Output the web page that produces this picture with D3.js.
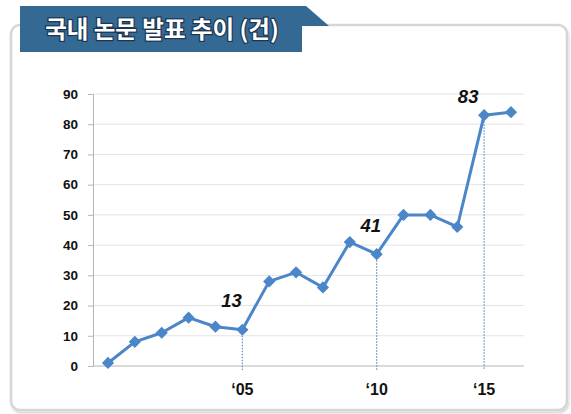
<!DOCTYPE html>
<html>
<head>
<meta charset="utf-8">
<script src="https://cdn.jsdelivr.net/npm/d3@7"></script>
<style>
  html, body { margin: 0; padding: 0; background: #fff; }
  svg { display: block; }
</style>
</head>
<body>
<svg id="chart" width="571" height="414"></svg>
<script>
// Domestic paper publications per year (count)
const periods = d3.range(16);
const counts = [1, 8, 11, 16, 13, 12, 28, 31, 26, 41, 37, 50, 50, 46, 83, 84];
const yTicks = [0, 10, 20, 30, 40, 50, 60, 70, 80, 90];
// year labels on the x axis, keyed by period index
const yearTicks = [{ i: 5, label: "‘05" }, { i: 10, label: "‘10" }, { i: 14, label: "‘15" }];
// value callouts: index of the point whose value is written
const callouts = [4, 9, 14];
const title = "국내 논문 발표 추이 (건)";

const svg = d3.select("#chart");

// shadowed panel
const defs = svg.append("defs");
const f = defs.append("filter").attr("id", "sh").attr("x", "-5%").attr("y", "-5%").attr("width", "110%").attr("height", "110%");
f.append("feGaussianBlur").attr("in", "SourceAlpha").attr("stdDeviation", 1.2);
f.append("feOffset").attr("dx", 1).attr("dy", 1.5).attr("result", "b");
f.append("feFlood").attr("flood-color", "#000").attr("flood-opacity", 0.18);
f.append("feComposite").attr("in2", "b").attr("operator", "in");
const fm = f.append("feMerge");
fm.append("feMergeNode");
fm.append("feMergeNode").attr("in", "SourceGraphic");

svg.append("rect")
  .attr("x", 11).attr("y", 25).attr("width", 556).attr("height", 385)
  .attr("rx", 9).attr("ry", 9)
  .attr("fill", "#fff").attr("stroke", "#d6d6d6").attr("stroke-width", 2.5)
  .attr("filter", "url(#sh)");

// title banner
svg.append("path")
  .attr("d", "M20,6 L306,6 L329,26 L302,26 L302,52 L20,52 Z")
  .attr("fill", "#336993");
svg.append("text")
  .attr("x", 162).attr("y", 38)
  .attr("text-anchor", "middle")
  .attr("font-family", "'Noto Sans CJK KR', sans-serif")
  .attr("font-weight", 700).attr("font-size", 23.5)
  .attr("fill", "#fff")
  .attr("stroke", "#1d3550").attr("stroke-width", 2.4).attr("paint-order", "stroke")
  .text(title);

// scales
const x = d3.scalePoint().domain(periods).range([108, 511]);
const y = d3.scaleLinear().domain([0, 90]).range([366, 94]);
const left = 93, right = 524;

const g = svg.append("g");

// gridlines
g.selectAll("line.grid").data(yTicks.filter(d => d > 0)).join("line")
  .attr("class", "grid")
  .attr("x1", left).attr("x2", right)
  .attr("y1", d => y(d)).attr("y2", d => y(d))
  .attr("stroke", "#e3e3e3").attr("stroke-width", 1);

// y axis
const yAxis = g.append("g").attr("transform", `translate(${left},0)`)
  .call(d3.axisLeft(y).tickValues(yTicks).tickSize(5).tickPadding(10));
yAxis.select(".domain").attr("stroke", "#b5b5b5");
yAxis.selectAll(".tick line").attr("stroke", "#b5b5b5");
yAxis.selectAll(".tick text")
  .attr("font-family", "'Liberation Sans', Arial, sans-serif")
  .attr("font-weight", 700).attr("font-size", 13.5).attr("fill", "#111");

// baseline
g.append("line")
  .attr("x1", left).attr("x2", right)
  .attr("y1", y(0)).attr("y2", y(0))
  .attr("stroke", "#b5b5b5").attr("stroke-width", 1);

// dotted drop lines at labelled years
g.selectAll("line.drop").data(yearTicks).join("line")
  .attr("class", "drop")
  .attr("x1", d => x(d.i)).attr("x2", d => x(d.i))
  .attr("y1", d => y(counts[d.i])).attr("y2", y(0) + 4)
  .attr("stroke", "#5a8fca").attr("stroke-width", 1.2)
  .attr("stroke-dasharray", "1.5,1.5");

// year labels
g.selectAll("text.year").data(yearTicks).join("text")
  .attr("class", "year")
  .attr("x", d => x(d.i)).attr("y", 395)
  .attr("text-anchor", "middle")
  .attr("font-family", "'Liberation Sans', Arial, sans-serif")
  .attr("font-weight", 700).attr("font-size", 16).attr("fill", "#111")
  .text(d => d.label);

// series line
const line = d3.line().x((d, i) => x(periods[i])).y(d => y(d));
g.append("path")
  .attr("d", line(counts))
  .attr("fill", "none").attr("stroke", "#4a86c8").attr("stroke-width", 3)
  .attr("stroke-linejoin", "round");

// diamond markers
const diamond = d3.symbol().type(d3.symbolDiamond2).size(95);
g.selectAll("path.pt").data(counts).join("path")
  .attr("class", "pt")
  .attr("transform", (d, i) => `translate(${x(periods[i])},${y(d)})`)
  .attr("d", diamond)
  .attr("fill", "#4a86c8");

// value callouts, nudged off the line
const nudge = { 4: [16, -20], 9: [21, -10], 14: [-16, -12] };
g.selectAll("text.call").data(callouts).join("text")
  .attr("class", "call")
  .attr("x", i => x(i) + nudge[i][0])
  .attr("y", i => y(counts[i]) + nudge[i][1])
  .attr("text-anchor", "middle")
  .attr("font-family", "'Liberation Sans', Arial, sans-serif")
  .attr("font-weight", 700).attr("font-style", "italic").attr("font-size", 18.5).attr("fill", "#111")
  .text(i => counts[i]);
</script>
</body>
</html>
